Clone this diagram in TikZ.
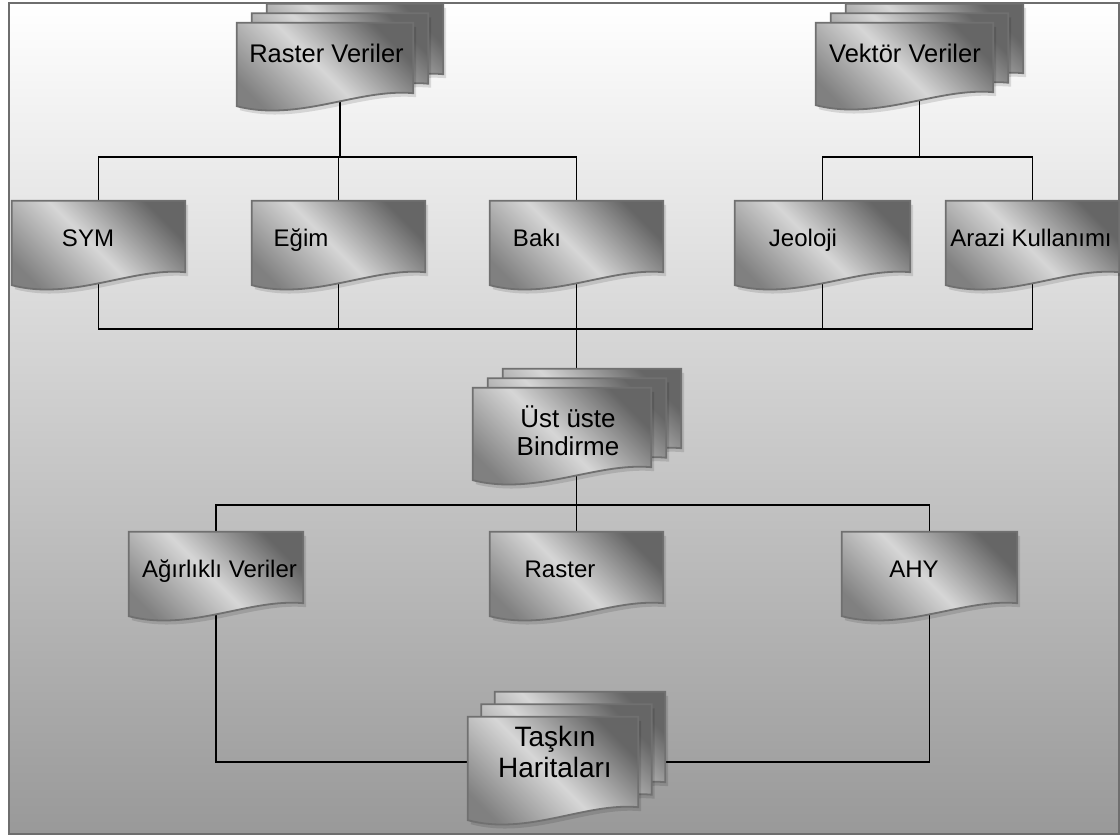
\documentclass[tikz,border=0pt]{standalone}
\usepackage{fontspec}
\setmainfont{Liberation Sans}
\usetikzlibrary{calc}

\pgfdeclarelayer{bg}
\pgfdeclarelayer{wires}
\pgfsetlayers{bg,wires,main}

% outline of a document sheet, read from the anchors of its box node
\newcommand{\docoutline}[1]{(#1.north west) -- (#1.north east) -- (#1.south east)
  .. controls ($(#1.south east)!.31!(#1.south west)+(0,-5)$) and ($(#1.south east)!.65!(#1.south west)+(0,29)$)
  .. ($(#1.south west)+(0,13)$) -- cycle}
\newcommand{\docsheet}[1]{%
  \fill[docshadow, transform canvas={shift={(3,4)}}] \docoutline{#1};
  \shade[docfill] \docoutline{#1};}

\tikzset{
  docfill/.style={draw=black!56, line width=1.8pt, shading=axis, top color=black!60,
    bottom color=black!50, middle color=black!16, shading angle=-45},
  docshadow/.style={fill=black, opacity=0.12},
  docbox/.style={draw=none, inner sep=0pt, minimum width=173, minimum height=71},
  doctext/.style={inner sep=1pt, align=center, anchor=base, font=\fontsize{24}{28}\selectfont},
  wire/.style={line width=1.6pt, black}
}

\begin{document}
\begin{tikzpicture}[x=1pt, y=-1pt]
	\useasboundingbox (0,0) rectangle (1120,836);
	\begin{pgfonlayer}{bg}
		\shade[top color=white, bottom color=black!40] (9,3) rectangle (1119,834);
		\draw[black!57, line width=2.5pt] (9,3) rectangle (1119,834);
	\end{pgfonlayer}

	% boxes of the sheets
	\node[docbox, minimum width=176, minimum height=70] (rv) at (325,58) {};
	\node[docbox, minimum width=177, minimum height=69] (vv) at (904.5,57.5) {};
	\node[docbox] (sym) at (98.5,236.5) {};
	\node[docbox] (egim) at (338.5,236.5) {};
	\node[docbox] (bak) at (576.5,236.5) {};
	\node[docbox, minimum width=175] (jeo) at (822.5,236.5) {};
	\node[docbox] (arazi) at (1032.5,236.5) {};
	\node[docbox, minimum width=178, minimum height=79] (ust) at (562,427.5) {};
	\node[docbox, minimum width=174] (agr) at (216,567.5) {};
	\node[docbox] (ras) at (576.5,567.5) {};
	\node[docbox, minimum width=175] (ahy) at (929.5,567.5) {};
	\node[docbox, minimum width=170, minimum height=90] (tas) at (553,762) {};

	% stacked sheets
	\foreach \n in {rv,vv,ust}{
		\begin{scope}[transform canvas={shift={(30,-19)}}] \docsheet{\n} \end{scope}
		\begin{scope}[transform canvas={shift={(15,-9.5)}}] \docsheet{\n} \end{scope}
		\docsheet{\n}
	}
	\begin{scope}[transform canvas={shift={(27,-25)}}] \docsheet{tas} \end{scope}
	\begin{scope}[transform canvas={shift={(13.5,-12.5)}}] \docsheet{tas} \end{scope}
	\docsheet{tas}

	% single sheets
	\foreach \n in {sym,egim,bak,jeo,arazi,agr,ras,ahy}{\docsheet{\n}}

	% texts
	\node[doctext, font=\fontsize{25.5}{29}\selectfont] (rv-t) at (326.5,62) {Raster Veriler};
	\node[doctext, font=\fontsize{25.5}{29}\selectfont] (vv-t) at (905,62) {Vektör Veriler};
	\node[doctext] (sym-t) at (88,246.5) {SYM};
	\node[doctext] (egim-t) at (301,246.5) {Eğim};
	\node[doctext] (bak-t) at (537,246.5) {Bakı};
	\node[doctext] (jeo-t) at (803,246.5) {Jeoloji};
	\node[doctext] (arazi-t) at (1031,246.5) {Arazi Kullanımı};
	\node[doctext, anchor=center, font=\fontsize{26}{28}\selectfont] (ust-t) at (568,431) {Üst üste\\Bindirme};
	\node[doctext] (agr-t) at (219.5,577) {Ağırlıklı Veriler};
	\node[doctext] (ras-t) at (560,577) {Raster};
	\node[doctext] (ahy-t) at (914,577) {AHY};
	\node[doctext, anchor=center, font=\fontsize{28}{31}\selectfont] (tas-t) at (555,752) {Taşkın\\Haritaları};

	% connectors
	\coordinate (b1) at (340,157);
	\coordinate (b2) at (919.5,157);
	\coordinate (b3) at (576.5,329);
	\coordinate (b4) at (576.5,505);
	\begin{pgfonlayer}{wires}
		\draw[wire] (b1) -- (b1 |- rv);
		\draw[wire] (sym) |- (b1) -| (bak);
		\draw[wire] (egim) -- (egim |- b1);
		\draw[wire] (b2) -- (b2 |- vv);
		\draw[wire] (jeo) |- (b2) -| (arazi);
		\draw[wire] (sym) |- (b3) -| (arazi);
		\draw[wire] (egim) -- (egim |- b3);
		\draw[wire] (jeo) -- (jeo |- b3);
		\draw[wire] (bak) -- (bak |- ust);
		\draw[wire] (b4) -- (b4 |- ust);
		\draw[wire] (agr) |- (b4) -| (ahy);
		\draw[wire] (ras) -- (b4);
		\draw[wire] (agr) |- (tas) -| (ahy);
	\end{pgfonlayer}
\end{tikzpicture}
\end{document}
